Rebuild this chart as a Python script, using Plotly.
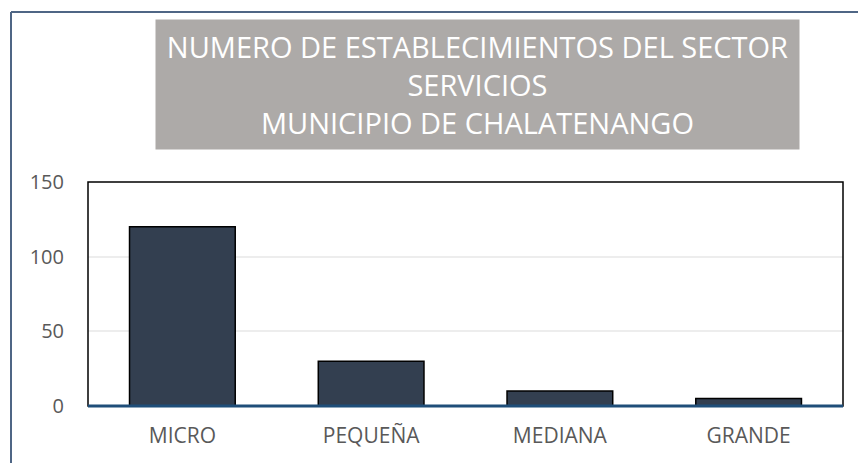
import plotly.graph_objects as go

# --- Data ---
categories = ["MICRO", "PEQUEÑA", "MEDIANA", "GRANDE"]
establishments = [120, 30, 10, 5]
y_ticks = [0, 50, 100, 150]

title_lines = ["NUMERO DE ESTABLECIMIENTOS DEL SECTOR", "SERVICIOS", "MUNICIPIO DE CHALATENANGO"]

W, H = 858, 463
L, R, T, B = 88, 15, 182, 57
pw, ph = W - L - R, H - T - B


def px_x(px):
    return (px - L) / pw


def px_y(py):
    return (H - B - py) / ph


fig = go.Figure()
fig.add_trace(go.Bar(
    x=categories,
    y=establishments,
    marker=dict(color="#333F50", line=dict(color="#000000", width=1.5)),
    hovertemplate="%{x}: %{y}<extra></extra>",
))

fig.update_layout(
    width=W, height=H,
    margin=dict(l=L, r=R, t=T, b=B),
    paper_bgcolor="white",
    plot_bgcolor="white",
    showlegend=False,
    bargap=0.44,
    font=dict(family="Open Sans, sans-serif", size=20, color="#595959"),
    xaxis=dict(showgrid=False, showline=False, ticks="", ticklabelstandoff=15,
               tickfont=dict(size=21)),
    yaxis=dict(range=[0, 150], tickvals=y_ticks, showgrid=True, gridcolor="#EDEDED",
               gridwidth=1.5, zeroline=False, showline=False, ticks="",
               ticklabelstandoff=23),
)

# title box
fig.add_annotation(
    xref="paper", yref="paper",
    x=px_x(477.5), y=px_y(84), xanchor="center", yanchor="middle",
    text="<br>".join(title_lines),
    showarrow=False, align="center",
    width=641, height=127, bgcolor="#ADAAA8",
    font=dict(family="Open Sans, sans-serif", size=29, color="white"),
)

# outer frame (left and top edges)
frame = "#4F6685"
fig.add_shape(type="line", xref="paper", yref="paper",
              x0=px_x(11), x1=px_x(11), y0=px_y(12), y1=px_y(480),
              line=dict(color=frame, width=2))
fig.add_shape(type="line", xref="paper", yref="paper",
              x0=px_x(11), x1=px_x(870), y0=px_y(12), y1=px_y(12),
              line=dict(color=frame, width=2))

# plot area border and axis line
fig.add_shape(type="rect", xref="paper", yref="paper", x0=0, x1=1, y0=0, y1=1,
              line=dict(color="#000000", width=1.5))
fig.add_shape(type="line", xref="paper", yref="paper", x0=0, x1=1, y0=0, y1=0,
              line=dict(color="#1F4E79", width=3))

fig.write_html("out.html", config={"displayModeBar": False},
               post_script="document.body.style.margin='0';")
